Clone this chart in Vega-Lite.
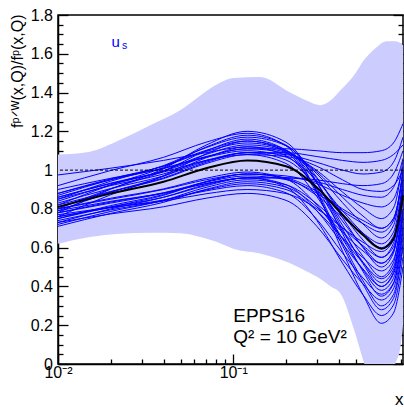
{
  "$schema": "https://vega.github.io/schema/vega-lite/v6.json",
  "width": 345,
  "height": 349,
  "autosize": {"type": "none"},
  "padding": {"left": 58, "top": 15, "right": 1, "bottom": 43},
  "config": {
    "font": "Liberation Sans",
    "view": {"stroke": "black", "strokeWidth": 1.5},
    "axis": {"grid": false, "domainColor": "black", "tickColor": "black", "labelColor": "black", "titleColor": "black", "domainWidth": 1.5, "tickWidth": 1.3, "labelFontSize": 16, "titleFontSize": 17, "titleFontWeight": "normal"}
  },
  "datasets": {
    "band": [
      {"x": 0.01, "lo": 0.62, "hi": 1.08},
      {"x": 0.0152, "lo": 0.655, "hi": 1.095},
      {"x": 0.0225, "lo": 0.672, "hi": 1.155},
      {"x": 0.0334, "lo": 0.677, "hi": 1.23},
      {"x": 0.05, "lo": 0.675, "hi": 1.31},
      {"x": 0.065, "lo": 0.655, "hi": 1.385},
      {"x": 0.08, "lo": 0.63, "hi": 1.44},
      {"x": 0.1, "lo": 0.595, "hi": 1.475},
      {"x": 0.142, "lo": 0.57, "hi": 1.48},
      {"x": 0.211, "lo": 0.52, "hi": 1.40},
      {"x": 0.26, "lo": 0.48, "hi": 1.36},
      {"x": 0.313, "lo": 0.44, "hi": 1.335},
      {"x": 0.36, "lo": 0.40, "hi": 1.36},
      {"x": 0.408, "lo": 0.365, "hi": 1.41},
      {"x": 0.49, "lo": 0.175, "hi": 1.49},
      {"x": 0.56, "lo": 0.0, "hi": 1.57},
      {"x": 0.65, "lo": -0.15, "hi": 1.63},
      {"x": 0.75, "lo": -0.15, "hi": 1.665},
      {"x": 0.84, "lo": 0.0, "hi": 1.665},
      {"x": 0.90, "lo": 0.09, "hi": 1.655},
      {"x": 0.93, "lo": 0.2, "hi": 1.645}
    ],
    "central": [
      {"x": 0.01, "y": 0.81}, {"x": 0.02, "y": 0.88}, {"x": 0.04, "y": 0.94}, {"x": 0.07, "y": 1.01}, {"x": 0.12, "y": 1.05}, {"x": 0.2, "y": 1.02}, {"x": 0.3, "y": 0.91}, {"x": 0.42, "y": 0.77}, {"x": 0.55, "y": 0.665}, {"x": 0.7, "y": 0.595}, {"x": 0.82, "y": 0.645}, {"x": 0.93, "y": 0.87}
    ],
    "curves": [
      {"c":1,"x":0.01,"y":0.78},{"c":1,"x":0.02,"y":0.902},{"c":1,"x":0.04,"y":1.007},{"c":1,"x":0.07,"y":1.129},{"c":1,"x":0.12,"y":1.20},{"c":1,"x":0.2,"y":1.144},{"c":1,"x":0.3,"y":0.936},{"c":1,"x":0.42,"y":0.673},{"c":1,"x":0.55,"y":0.477},{"c":1,"x":0.7,"y":0.35},{"c":1,"x":0.82,"y":0.413},{"c":1,"x":0.93,"y":0.70},
      {"c":2,"x":0.01,"y":0.82},{"c":2,"x":0.02,"y":0.924},{"c":2,"x":0.04,"y":1.014},{"c":2,"x":0.07,"y":1.119},{"c":2,"x":0.12,"y":1.18},{"c":2,"x":0.2,"y":1.129},{"c":2,"x":0.3,"y":0.938},{"c":2,"x":0.42,"y":0.696},{"c":2,"x":0.55,"y":0.517},{"c":2,"x":0.7,"y":0.40},{"c":2,"x":0.82,"y":0.472},{"c":2,"x":0.93,"y":0.80},
      {"c":3,"x":0.01,"y":0.85},{"c":3,"x":0.02,"y":0.943},{"c":3,"x":0.04,"y":1.023},{"c":3,"x":0.07,"y":1.116},{"c":3,"x":0.12,"y":1.17},{"c":3,"x":0.2,"y":1.126},{"c":3,"x":0.3,"y":0.962},{"c":3,"x":0.42,"y":0.755},{"c":3,"x":0.55,"y":0.600},{"c":3,"x":0.7,"y":0.50},{"c":3,"x":0.82,"y":0.572},{"c":3,"x":0.93,"y":0.90},
      {"c":4,"x":0.01,"y":0.80},{"c":4,"x":0.02,"y":0.904},{"c":4,"x":0.04,"y":0.994},{"c":4,"x":0.07,"y":1.099},{"c":4,"x":0.12,"y":1.16},{"c":4,"x":0.2,"y":1.103},{"c":4,"x":0.3,"y":0.893},{"c":4,"x":0.42,"y":0.627},{"c":4,"x":0.55,"y":0.429},{"c":4,"x":0.7,"y":0.30},{"c":4,"x":0.82,"y":0.358},{"c":4,"x":0.93,"y":0.62},
      {"c":5,"x":0.01,"y":0.76},{"c":5,"x":0.02,"y":0.873},{"c":5,"x":0.04,"y":0.971},{"c":5,"x":0.07,"y":1.084},{"c":5,"x":0.12,"y":1.15},{"c":5,"x":0.2,"y":1.104},{"c":5,"x":0.3,"y":0.933},{"c":5,"x":0.42,"y":0.716},{"c":5,"x":0.55,"y":0.555},{"c":5,"x":0.7,"y":0.45},{"c":5,"x":0.82,"y":0.522},{"c":5,"x":0.93,"y":0.85},
      {"c":6,"x":0.01,"y":0.88},{"c":6,"x":0.02,"y":0.955},{"c":6,"x":0.04,"y":1.020},{"c":6,"x":0.07,"y":1.096},{"c":6,"x":0.12,"y":1.14},{"c":6,"x":0.2,"y":1.101},{"c":6,"x":0.3,"y":0.957},{"c":6,"x":0.42,"y":0.774},{"c":6,"x":0.55,"y":0.639},{"c":6,"x":0.7,"y":0.55},{"c":6,"x":0.82,"y":0.622},{"c":6,"x":0.93,"y":0.95},
      {"c":7,"x":0.01,"y":0.84},{"c":7,"x":0.02,"y":0.924},{"c":7,"x":0.04,"y":0.997},{"c":7,"x":0.07,"y":1.081},{"c":7,"x":0.12,"y":1.13},{"c":7,"x":0.2,"y":1.098},{"c":7,"x":0.3,"y":0.981},{"c":7,"x":0.42,"y":0.832},{"c":7,"x":0.55,"y":0.722},{"c":7,"x":0.7,"y":0.65},{"c":7,"x":0.82,"y":0.713},{"c":7,"x":0.93,"y":1.00},
      {"c":8,"x":0.01,"y":0.79},{"c":8,"x":0.02,"y":0.886},{"c":8,"x":0.04,"y":0.968},{"c":8,"x":0.07,"y":1.064},{"c":8,"x":0.12,"y":1.12},{"c":8,"x":0.2,"y":1.074},{"c":8,"x":0.3,"y":0.903},{"c":8,"x":0.42,"y":0.686},{"c":8,"x":0.55,"y":0.525},{"c":8,"x":0.7,"y":0.42},{"c":8,"x":0.82,"y":0.485},{"c":8,"x":0.93,"y":0.78},
      {"c":9,"x":0.01,"y":0.86},{"c":9,"x":0.02,"y":0.933},{"c":9,"x":0.04,"y":0.995},{"c":9,"x":0.07,"y":1.068},{"c":9,"x":0.12,"y":1.11},{"c":9,"x":0.2,"y":1.086},{"c":9,"x":0.3,"y":0.998},{"c":9,"x":0.42,"y":0.887},{"c":9,"x":0.55,"y":0.804},{"c":9,"x":0.7,"y":0.75},{"c":9,"x":0.82,"y":0.804},{"c":9,"x":0.93,"y":1.05},
      {"c":10,"x":0.01,"y":0.90},{"c":10,"x":0.02,"y":0.958},{"c":10,"x":0.04,"y":1.008},{"c":10,"x":0.07,"y":1.066},{"c":10,"x":0.12,"y":1.10},{"c":10,"x":0.2,"y":1.067},{"c":10,"x":0.3,"y":0.945},{"c":10,"x":0.42,"y":0.79},{"c":10,"x":0.55,"y":0.675},{"c":10,"x":0.7,"y":0.60},{"c":10,"x":0.82,"y":0.658},{"c":10,"x":0.93,"y":0.92},
      {"c":11,"x":0.01,"y":0.83},{"c":11,"x":0.02,"y":0.905},{"c":11,"x":0.04,"y":0.970},{"c":11,"x":0.07,"y":1.046},{"c":11,"x":0.12,"y":1.09},{"c":11,"x":0.2,"y":1.052},{"c":11,"x":0.3,"y":0.913},{"c":11,"x":0.42,"y":0.737},{"c":11,"x":0.55,"y":0.605},{"c":11,"x":0.7,"y":0.52},{"c":11,"x":0.82,"y":0.585},{"c":11,"x":0.93,"y":0.88},
      {"c":12,"x":0.01,"y":0.81},{"c":12,"x":0.02,"y":0.888},{"c":12,"x":0.04,"y":0.956},{"c":12,"x":0.07,"y":1.034},{"c":12,"x":0.12,"y":1.08},{"c":12,"x":0.2,"y":1.034},{"c":12,"x":0.3,"y":0.863},{"c":12,"x":0.42,"y":0.646},{"c":12,"x":0.55,"y":0.485},{"c":12,"x":0.7,"y":0.38},{"c":12,"x":0.82,"y":0.441},{"c":12,"x":0.93,"y":0.72},
      {"c":13,"x":0.01,"y":0.92},{"c":13,"x":0.02,"y":0.998},{"c":13,"x":0.04,"y":1.066},{"c":13,"x":0.07,"y":1.144},{"c":13,"x":0.12,"y":1.19},{"c":13,"x":0.2,"y":1.125},{"c":13,"x":0.3,"y":0.886},{"c":13,"x":0.42,"y":0.582},{"c":13,"x":0.55,"y":0.357},{"c":13,"x":0.7,"y":0.21},{"c":13,"x":0.82,"y":0.262},{"c":13,"x":0.93,"y":0.50},
      {"c":14,"x":0.01,"y":0.87},{"c":14,"x":0.02,"y":0.951},{"c":14,"x":0.04,"y":1.021},{"c":14,"x":0.07,"y":1.102},{"c":14,"x":0.12,"y":1.15},{"c":14,"x":0.2,"y":1.093},{"c":14,"x":0.3,"y":0.880},{"c":14,"x":0.42,"y":0.611},{"c":14,"x":0.55,"y":0.411},{"c":14,"x":0.7,"y":0.28},{"c":14,"x":0.82,"y":0.338},{"c":14,"x":0.93,"y":0.60},
      {"c":15,"x":0.01,"y":0.975},{"c":15,"x":0.02,"y":1.01},{"c":15,"x":0.04,"y":1.05},{"c":15,"x":0.07,"y":1.09},{"c":15,"x":0.12,"y":1.12},{"c":15,"x":0.2,"y":1.092},{"c":15,"x":0.3,"y":0.99},{"c":15,"x":0.42,"y":0.86},{"c":15,"x":0.55,"y":0.763},{"c":15,"x":0.7,"y":0.70},{"c":15,"x":0.82,"y":0.75},{"c":15,"x":0.93,"y":0.98},
      {"c":16,"x":0.01,"y":0.72},{"c":16,"x":0.02,"y":0.787},{"c":16,"x":0.04,"y":0.844},{"c":16,"x":0.07,"y":0.911},{"c":16,"x":0.12,"y":0.95},{"c":16,"x":0.2,"y":0.924},{"c":16,"x":0.3,"y":0.826},{"c":16,"x":0.42,"y":0.702},{"c":16,"x":0.55,"y":0.61},{"c":16,"x":0.7,"y":0.55},{"c":16,"x":0.82,"y":0.604},{"c":16,"x":0.93,"y":0.85},
      {"c":17,"x":0.01,"y":0.74},{"c":17,"x":0.02,"y":0.795},{"c":17,"x":0.04,"y":0.843},{"c":17,"x":0.07,"y":0.898},{"c":17,"x":0.12,"y":0.93},{"c":17,"x":0.2,"y":0.90},{"c":17,"x":0.3,"y":0.79},{"c":17,"x":0.42,"y":0.651},{"c":17,"x":0.55,"y":0.548},{"c":17,"x":0.7,"y":0.48},{"c":17,"x":0.82,"y":0.538},{"c":17,"x":0.93,"y":0.80},
      {"c":18,"x":0.01,"y":0.75},{"c":18,"x":0.02,"y":0.817},{"c":18,"x":0.04,"y":0.874},{"c":18,"x":0.07,"y":0.941},{"c":18,"x":0.12,"y":0.98},{"c":18,"x":0.2,"y":0.956},{"c":18,"x":0.3,"y":0.868},{"c":18,"x":0.42,"y":0.757},{"c":18,"x":0.55,"y":0.674},{"c":18,"x":0.7,"y":0.62},{"c":18,"x":0.82,"y":0.679},{"c":18,"x":0.93,"y":0.95},
      {"c":19,"x":0.01,"y":0.77},{"c":19,"x":0.02,"y":0.808},{"c":19,"x":0.04,"y":0.84},{"c":19,"x":0.07,"y":0.878},{"c":19,"x":0.12,"y":0.90},{"c":19,"x":0.2,"y":0.879},{"c":19,"x":0.3,"y":0.801},{"c":19,"x":0.42,"y":0.702},{"c":19,"x":0.55,"y":0.628},{"c":19,"x":0.7,"y":0.58},{"c":19,"x":0.82,"y":0.638},{"c":19,"x":0.93,"y":0.90},
      {"c":20,"x":0.01,"y":0.73},{"c":20,"x":0.02,"y":0.774},{"c":20,"x":0.04,"y":0.811},{"c":20,"x":0.07,"y":0.855},{"c":20,"x":0.12,"y":0.88},{"c":20,"x":0.2,"y":0.844},{"c":20,"x":0.3,"y":0.71},{"c":20,"x":0.42,"y":0.539},{"c":20,"x":0.55,"y":0.413},{"c":20,"x":0.7,"y":0.33},{"c":20,"x":0.82,"y":0.388},{"c":20,"x":0.93,"y":0.65},
      {"c":21,"x":0.01,"y":0.78},{"c":21,"x":0.02,"y":0.835},{"c":21,"x":0.04,"y":0.883},{"c":21,"x":0.07,"y":0.938},{"c":21,"x":0.12,"y":0.97},{"c":21,"x":0.2,"y":0.951},{"c":21,"x":0.3,"y":0.88},{"c":21,"x":0.42,"y":0.79},{"c":21,"x":0.55,"y":0.724},{"c":21,"x":0.7,"y":0.68},{"c":21,"x":0.82,"y":0.738},{"c":21,"x":0.93,"y":1.00},
      {"c":22,"x":0.01,"y":0.80},{"c":22,"x":0.02,"y":0.855},{"c":22,"x":0.04,"y":0.903},{"c":22,"x":0.07,"y":0.958},{"c":22,"x":0.12,"y":0.99},{"c":22,"x":0.2,"y":0.954},{"c":22,"x":0.3,"y":0.82},{"c":22,"x":0.42,"y":0.649},{"c":22,"x":0.55,"y":0.523},{"c":22,"x":0.7,"y":0.44},{"c":22,"x":0.82,"y":0.501},{"c":22,"x":0.93,"y":0.78},
      {"c":23,"x":0.01,"y":0.76},{"c":23,"x":0.02,"y":0.806},{"c":23,"x":0.04,"y":0.846},{"c":23,"x":0.07,"y":0.893},{"c":23,"x":0.12,"y":0.92},{"c":23,"x":0.2,"y":0.883},{"c":23,"x":0.3,"y":0.746},{"c":23,"x":0.42,"y":0.573},{"c":23,"x":0.55,"y":0.444},{"c":23,"x":0.7,"y":0.36},{"c":23,"x":0.82,"y":0.418},{"c":23,"x":0.93,"y":0.68},
      {"c":24,"x":0.01,"y":0.71},{"c":24,"x":0.02,"y":0.777},{"c":24,"x":0.04,"y":0.834},{"c":24,"x":0.07,"y":0.901},{"c":24,"x":0.12,"y":0.94},{"c":24,"x":0.2,"y":0.912},{"c":24,"x":0.3,"y":0.81},{"c":24,"x":0.42,"y":0.68},{"c":24,"x":0.55,"y":0.583},{"c":24,"x":0.7,"y":0.52},{"c":24,"x":0.82,"y":0.581},{"c":24,"x":0.93,"y":0.86},
      {"c":25,"x":0.01,"y":0.79},{"c":25,"x":0.02,"y":0.839},{"c":25,"x":0.04,"y":0.882},{"c":25,"x":0.07,"y":0.931},{"c":25,"x":0.12,"y":0.96},{"c":25,"x":0.2,"y":0.913},{"c":25,"x":0.3,"y":0.74},{"c":25,"x":0.42,"y":0.52},{"c":25,"x":0.55,"y":0.357},{"c":25,"x":0.7,"y":0.25},{"c":25,"x":0.82,"y":0.304},{"c":25,"x":0.93,"y":0.55},
      {"c":26,"x":0.01,"y":0.82},{"c":26,"x":0.02,"y":0.89},{"c":26,"x":0.04,"y":0.96},{"c":26,"x":0.07,"y":1.04},{"c":26,"x":0.12,"y":1.09},{"c":26,"x":0.2,"y":1.08},{"c":26,"x":0.3,"y":1.04},{"c":26,"x":0.42,"y":1.0},{"c":26,"x":0.55,"y":0.98},{"c":26,"x":0.7,"y":0.99},{"c":26,"x":0.82,"y":1.04},{"c":26,"x":0.93,"y":1.17},
      {"c":27,"x":0.01,"y":0.85},{"c":27,"x":0.02,"y":0.92},{"c":27,"x":0.04,"y":0.98},{"c":27,"x":0.07,"y":1.05},{"c":27,"x":0.12,"y":1.09},{"c":27,"x":0.2,"y":1.09},{"c":27,"x":0.3,"y":1.07},{"c":27,"x":0.42,"y":1.05},{"c":27,"x":0.55,"y":1.04},{"c":27,"x":0.7,"y":1.05},{"c":27,"x":0.82,"y":1.08},{"c":27,"x":0.93,"y":1.13},
      {"c":28,"x":0.01,"y":0.78},{"c":28,"x":0.02,"y":0.83},{"c":28,"x":0.04,"y":0.88},{"c":28,"x":0.07,"y":0.93},{"c":28,"x":0.12,"y":0.96},{"c":28,"x":0.2,"y":0.96},{"c":28,"x":0.3,"y":0.95},{"c":28,"x":0.42,"y":0.93},{"c":28,"x":0.55,"y":0.92},{"c":28,"x":0.7,"y":0.93},{"c":28,"x":0.82,"y":0.98},{"c":28,"x":0.93,"y":1.10},
      {"c":29,"x":0.01,"y":0.86},{"c":29,"x":0.02,"y":0.93},{"c":29,"x":0.04,"y":0.99},{"c":29,"x":0.07,"y":1.05},{"c":29,"x":0.12,"y":1.08},{"c":29,"x":0.2,"y":1.07},{"c":29,"x":0.3,"y":1.02},{"c":29,"x":0.42,"y":0.95},{"c":29,"x":0.55,"y":0.90},{"c":29,"x":0.7,"y":0.89},{"c":29,"x":0.82,"y":0.92},{"c":29,"x":0.93,"y":1.00},
      {"c":30,"x":0.01,"y":0.76},{"c":30,"x":0.02,"y":0.81},{"c":30,"x":0.04,"y":0.86},{"c":30,"x":0.07,"y":0.92},{"c":30,"x":0.12,"y":0.96},{"c":30,"x":0.2,"y":0.96},{"c":30,"x":0.3,"y":0.94},{"c":30,"x":0.42,"y":0.90},{"c":30,"x":0.55,"y":0.87},{"c":30,"x":0.7,"y":0.86},{"c":30,"x":0.82,"y":0.91},{"c":30,"x":0.93,"y":1.06},
      {"c":31,"x":0.01,"y":0.88},{"c":31,"x":0.02,"y":0.95},{"c":31,"x":0.04,"y":1.01},{"c":31,"x":0.07,"y":1.07},{"c":31,"x":0.12,"y":1.11},{"c":31,"x":0.2,"y":1.11},{"c":31,"x":0.3,"y":1.10},{"c":31,"x":0.42,"y":1.09},{"c":31,"x":0.55,"y":1.09},{"c":31,"x":0.7,"y":1.10},{"c":31,"x":0.82,"y":1.14},{"c":31,"x":0.93,"y":1.24},
      {"c":32,"x":0.01,"y":0.80},{"c":32,"x":0.02,"y":0.85},{"c":32,"x":0.04,"y":0.90},{"c":32,"x":0.07,"y":0.95},{"c":32,"x":0.12,"y":0.98},{"c":32,"x":0.2,"y":0.97},{"c":32,"x":0.3,"y":0.93},{"c":32,"x":0.42,"y":0.87},{"c":32,"x":0.55,"y":0.83},{"c":32,"x":0.7,"y":0.81},{"c":32,"x":0.82,"y":0.85},{"c":32,"x":0.93,"y":1.02},
      {"c":33,"x":0.01,"y":0.75},{"c":33,"x":0.02,"y":0.81},{"c":33,"x":0.04,"y":0.87},{"c":33,"x":0.07,"y":0.94},{"c":33,"x":0.12,"y":0.98},{"c":33,"x":0.2,"y":0.96},{"c":33,"x":0.3,"y":0.89},{"c":33,"x":0.42,"y":0.80},{"c":33,"x":0.55,"y":0.74},{"c":33,"x":0.7,"y":0.70},{"c":33,"x":0.82,"y":0.75},{"c":33,"x":0.93,"y":0.98},
      {"c":34,"x":0.01,"y":0.73},{"c":34,"x":0.02,"y":0.80},{"c":34,"x":0.04,"y":0.86},{"c":34,"x":0.07,"y":0.925},{"c":34,"x":0.12,"y":0.96},{"c":34,"x":0.2,"y":0.925},{"c":34,"x":0.3,"y":0.79},{"c":34,"x":0.42,"y":0.62},{"c":34,"x":0.55,"y":0.49},{"c":34,"x":0.7,"y":0.40},{"c":34,"x":0.82,"y":0.463},{"c":34,"x":0.93,"y":0.75}
    ]
  },
  "resolve": {"axis": {"x": "independent", "y": "independent"}},
  "layer": [
    {
      "data": {"name": "band"},
      "mark": {"type": "area", "color": "#ccccff", "interpolate": "monotone", "clip": true},
      "encoding": {
        "x": {"field": "x", "type": "quantitative", "scale": {"type": "log", "domain": [0.01, 0.93], "nice": false},
          "axis": {"orient": "bottom", "values": [0.01, 0.1], "labelExpr": "datum.value < 0.05 ? '10⁻²' : '10⁻¹'", "tickSize": -10, "labelPadding": 10, "labelFlush": false, "title": "x", "titleAnchor": "end", "titleAlign": "right", "titleX": 345, "titleY": 40, "titleBaseline": "alphabetic"}},
        "y": {"field": "hi", "type": "quantitative", "scale": {"domain": [0, 1.8], "nice": false, "zero": false},
          "axis": {"orient": "left", "values": [0, 0.2, 0.4, 0.6, 0.8, 1, 1.2, 1.4, 1.6, 1.8], "labelExpr": "format(datum.value, '~g')", "tickSize": -10, "labelPadding": 15.5, "title": "fᵖᐟᵂ(x,Q)/fᵖ(x,Q)", "titleFontSize": 16, "titleAngle": -90, "titleAlign": "right", "titleBaseline": "alphabetic", "titleX": -36, "titleY": -1}},
        "y2": {"field": "lo"}
      }
    },
    {
      "data": {"name": "curves"},
      "mark": {"type": "line", "color": "#0000ff", "strokeWidth": 1, "interpolate": "monotone", "clip": true},
      "encoding": {
        "x": {"field": "x", "type": "quantitative",
          "axis": {"orient": "bottom", "values": [0.02, 0.03, 0.04, 0.05, 0.06, 0.07, 0.08, 0.09, 0.2, 0.3, 0.4, 0.5, 0.6, 0.7, 0.8, 0.9], "tickSize": -5, "labels": false, "domain": false, "title": null}},
        "y": {"field": "y", "type": "quantitative",
          "axis": {"orient": "left", "values": [0.05, 0.1, 0.15, 0.25, 0.3, 0.35, 0.45, 0.5, 0.55, 0.65, 0.7, 0.75, 0.85, 0.9, 0.95, 1.05, 1.1, 1.15, 1.25, 1.3, 1.35, 1.45, 1.5, 1.55, 1.65, 1.7, 1.75], "tickSize": -5, "labels": false, "domain": false, "title": null}},
        "detail": {"field": "c", "type": "nominal"}
      }
    },
    {
      "data": {"values": [{}]},
      "mark": {"type": "rule", "color": "black", "strokeWidth": 1, "strokeDash": [3, 2]},
      "encoding": {
        "y": {"datum": 1, "type": "quantitative",
          "axis": {"orient": "right", "values": [0.05, 0.1, 0.15, 0.25, 0.3, 0.35, 0.45, 0.5, 0.55, 0.65, 0.7, 0.75, 0.85, 0.9, 0.95, 1.05, 1.1, 1.15, 1.25, 1.3, 1.35, 1.45, 1.5, 1.55, 1.65, 1.7, 1.75], "tickSize": -5, "labels": false, "domain": false, "title": null}}
      }
    },
    {
      "data": {"name": "central"},
      "mark": {"type": "line", "color": "black", "strokeWidth": 2, "interpolate": "monotone"},
      "encoding": {
        "x": {"field": "x", "type": "quantitative", "axis": null},
        "y": {"field": "y", "type": "quantitative",
          "axis": {"orient": "right", "values": [0, 0.2, 0.4, 0.6, 0.8, 1, 1.2, 1.4, 1.6, 1.8], "tickSize": -10, "labels": false, "domain": false, "title": null}}
      }
    },
    {
      "data": {"values": [{}]},
      "mark": {"type": "text", "text": "EPPS16", "fontSize": 19, "align": "left", "baseline": "alphabetic", "color": "black"},
      "encoding": {"x": {"datum": 0.1, "type": "quantitative", "axis": null}, "y": {"datum": 0.217, "type": "quantitative", "axis": null}}
    },
    {
      "data": {"values": [{}]},
      "mark": {"type": "text", "text": "Q² = 10 GeV²", "fontSize": 19, "align": "left", "baseline": "alphabetic", "color": "black"},
      "encoding": {"x": {"datum": 0.1, "type": "quantitative", "axis": null}, "y": {"datum": 0.108, "type": "quantitative", "axis": null}}
    },
    {
      "data": {"values": [{}]},
      "mark": {"type": "text", "text": "u", "fontSize": 15, "align": "left", "baseline": "alphabetic", "color": "#0000ff"},
      "encoding": {"x": {"datum": 0.0202, "type": "quantitative", "axis": null}, "y": {"datum": 1.635, "type": "quantitative", "axis": null}}
    },
    {
      "data": {"values": [{}]},
      "mark": {"type": "text", "text": "s", "fontSize": 10.5, "align": "left", "baseline": "alphabetic", "color": "#0000ff"},
      "encoding": {"x": {"datum": 0.0232, "type": "quantitative", "axis": null}, "y": {"datum": 1.625, "type": "quantitative", "axis": null}}
    }
  ]
}
